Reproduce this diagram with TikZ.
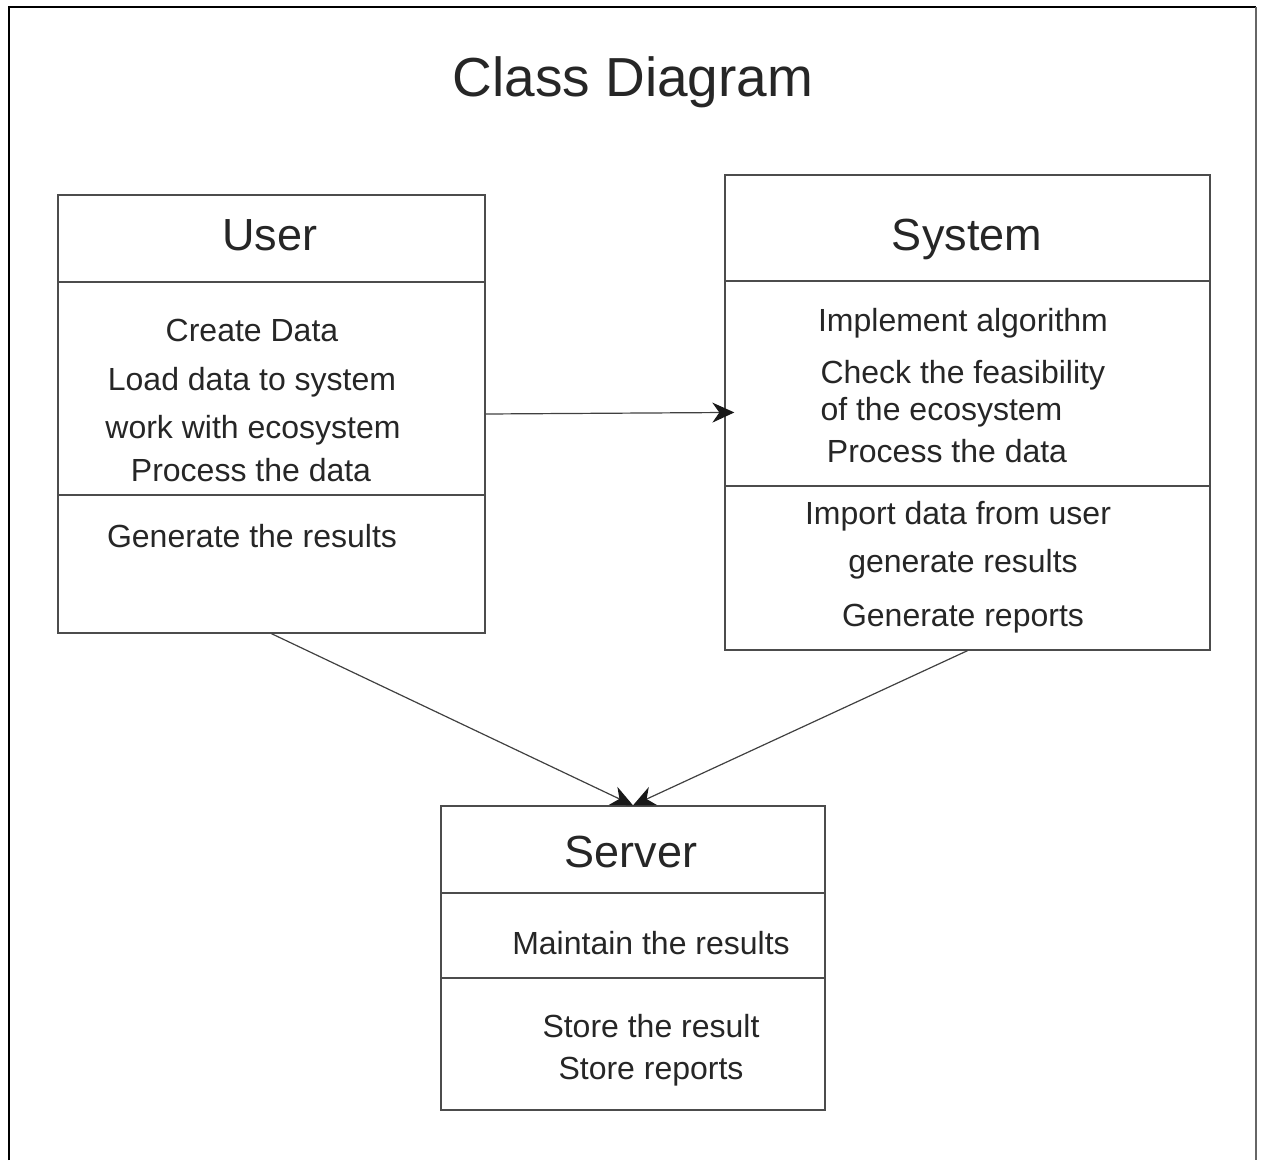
\documentclass[tikz,border=0pt]{standalone}
\usepackage{fontspec}
\setmainfont{Liberation Sans}
\usetikzlibrary{arrows.meta}

\tikzset{
  classbox/.style={draw=black!70, line width=1.3pt, rectangle, inner sep=0pt},
  classname/.style={anchor=base, font=\fontsize{45}{54}\selectfont, text=black!85},
  member/.style={anchor=base, font=\fontsize{32}{38}\selectfont, text=black!85},
  divider/.style={draw=black!70, line width=1.3pt},
  assoc/.style={draw=black!75, line width=1.2pt, -{Stealth[length=22pt,width=20pt,inset=7pt,color=black!90]}},
}

\begin{document}
\begin{tikzpicture}[x=1pt, y=-1pt]
    \useasboundingbox (0,0) rectangle (1261,1160);

    % outer frame
    \draw[line width=2.5pt] (9,1160) -- (9,7) -- (1256,7);
    \draw[line width=2pt, black!60] (1256,7) -- (1256,1160);

    % title
    \node (title) [anchor=base, font=\fontsize{55}{66}\selectfont, text=black!85] at (633,96) {Class Diagram};

    % User class
    \node (user) [classbox, minimum width=427pt, minimum height=438pt] at (271.5,414) {};
    \draw[divider] (user.west |- 0,282) -- (user.east |- 0,282);
    \draw[divider] (user.west |- 0,495) -- (user.east |- 0,495);
    \node (username) [classname] at (270,250) {User};
    \node (create) [member] at (252,341) {Create Data};
    \node (load) [member] at (252,390) {Load data to system};
    \node (work) [member] at (253,438) {work with ecosystem};
    \node (uprocess) [member] at (251,481) {Process the data};
    \node (ugenerate) [member] at (252,547) {Generate the results};

    % System class
    \node (system) [classbox, minimum width=485pt, minimum height=475pt] at (967.5,412.5) {};
    \draw[divider] (system.west |- 0,281) -- (system.east |- 0,281);
    \draw[divider] (system.west |- 0,486) -- (system.east |- 0,486);
    \node (systemname) [classname] at (967,250) {System};
    \node (implement) [member] at (963,331) {Implement algorithm};
    \node (check) [member, anchor=base west, align=left, font=\fontsize{32}{37}\selectfont] at (817,420) {Check the feasibility\\of the ecosystem};
    \node (sprocess) [member] at (947,462) {Process the data};
    \node (import) [member] at (958,524) {Import data from user};
    \node (sresults) [member] at (963,572) {generate results};
    \node (sreports) [member] at (963,626) {Generate reports};

    % Server class
    \node (server) [classbox, minimum width=384pt, minimum height=304pt] at (633,958) {};
    \draw[divider] (server.west |- 0,893) -- (server.east |- 0,893);
    \draw[divider] (server.west |- 0,978) -- (server.east |- 0,978);
    \node (servername) [classname] at (631,867) {Server};
    \node (maintain) [member] at (651,954) {Maintain the results};
    \node (storeres) [member] at (651,1037) {Store the result};
    \node (storerep) [member] at (651,1079) {Store reports};

    % Associations
    \draw[assoc, shorten >=-10pt] (user.east) -- (system.west);
    \draw[assoc] (user.south) -- (server.north);
    \draw[assoc] (system.south) -- (server.north);
\end{tikzpicture}
\end{document}
